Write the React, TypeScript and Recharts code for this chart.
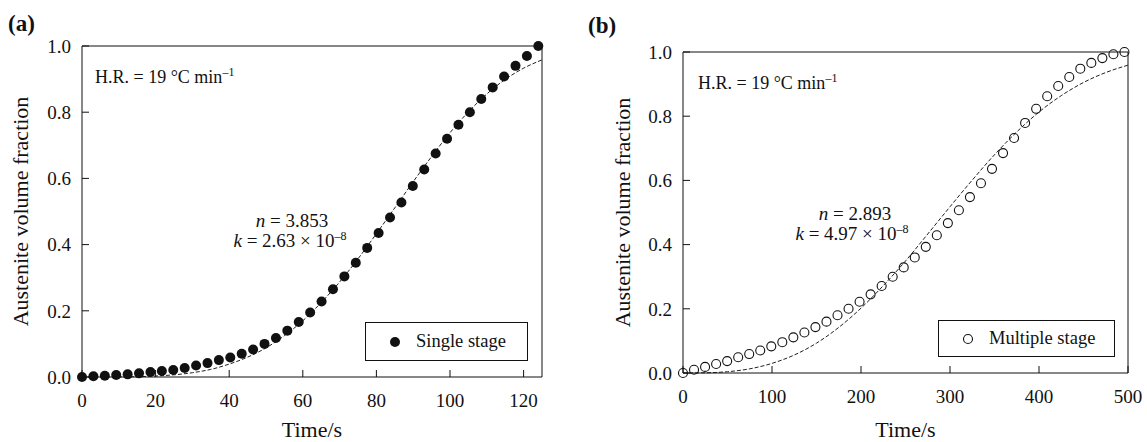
import React from 'react';
import { ComposedChart, Line, Scatter, XAxis, YAxis, ReferenceLine } from 'recharts';

// (a) single stage – measured points
const timeA = [
  0, 3.1, 6.2, 9.3, 12.4, 15.5, 18.6, 21.7, 24.8, 27.9, 31, 34.1, 37.2, 40.3,
  43.4, 46.5, 49.6, 52.7, 55.8, 58.9, 62, 65.1, 68.2, 71.3, 74.4, 77.5, 80.6,
  83.7, 86.8, 89.9, 93, 96.1, 99.2, 102.3, 105.4, 108.5, 111.6, 114.7, 117.8,
  120.9, 124,
];
const fracA = [
  0, 0.002, 0.004, 0.006, 0.008, 0.011, 0.015, 0.018, 0.021, 0.027, 0.035,
  0.042, 0.051, 0.059, 0.07, 0.083, 0.1, 0.118, 0.14, 0.166, 0.195, 0.228,
  0.265, 0.304, 0.345, 0.39, 0.435, 0.482, 0.527, 0.577, 0.627, 0.675, 0.72,
  0.762, 0.8, 0.84, 0.875, 0.908, 0.94, 0.97, 1.0,
];
// (a) fitted curve, n = 3.853
const fitTimeA = [0, 10, 20, 30, 35, 40, 45, 50, 55, 60, 65, 70, 75, 80, 85, 90, 95, 100, 105, 110, 115, 120, 125];
const fitFracA = [0, 0.0002, 0.003, 0.013, 0.023, 0.039, 0.06, 0.088, 0.125, 0.17, 0.225, 0.287, 0.357, 0.433, 0.511, 0.59, 0.666, 0.738, 0.801, 0.855, 0.899, 0.933, 0.958];

// (b) multiple stage – measured points
const timeB = [
  0, 12.4, 24.8, 37.2, 49.6, 62, 74.4, 86.8, 99.2, 111.6, 124, 136.4, 148.8,
  161.2, 173.6, 186, 198.4, 210.8, 223.2, 235.6, 248, 260.4, 272.8, 285.2,
  297.6, 310, 322.4, 334.8, 347.2, 359.6, 372, 384.4, 396.8, 409.2, 421.6, 434,
  446.4, 458.8, 471.2, 483.6, 496,
];
const fracB = [
  0, 0.01, 0.019, 0.028, 0.037, 0.049, 0.059, 0.07, 0.083, 0.096, 0.111,
  0.126, 0.143, 0.16, 0.18, 0.2, 0.222, 0.245, 0.271, 0.3, 0.329, 0.36, 0.393,
  0.429, 0.467, 0.507, 0.548, 0.591, 0.636, 0.685, 0.732, 0.779, 0.823, 0.862,
  0.894, 0.922, 0.948, 0.966, 0.981, 0.993, 1.0,
];
// (b) fitted curve, n = 2.893
const fitTimeB = [0, 25, 50, 75, 100, 125, 150, 175, 200, 225, 250, 275, 300, 325, 350, 375, 400, 425, 450, 475, 500];
const fitFracB = [0, 0.0006, 0.004, 0.013, 0.03, 0.056, 0.093, 0.142, 0.202, 0.272, 0.349, 0.433, 0.518, 0.601, 0.68, 0.751, 0.813, 0.864, 0.905, 0.936, 0.959];

const ticksA = [0, 20, 40, 60, 80, 100, 120];
const ticksB = [0, 100, 200, 300, 400, 500];
const ticksY = [0, 0.2, 0.4, 0.6, 0.8, 1.0];

const FONT = '"Liberation Serif", "Times New Roman", serif';
const INK = '#111';

const zip = (t: number[], f: number[]) => t.map((v, i) => ({ t: v, f: f[i] }));

const tickStyle = { fontFamily: FONT, fontSize: 19, fill: INK };

function Panel({
  left, width, top, bottomAxisH, yAxisW, rightM, xMax, xTicks, pts, fit, filled,
}: {
  left: number; width: number; top: number; bottomAxisH: number; yAxisW: number; rightM: number;
  xMax: number; xTicks: number[]; pts: { t: number; f: number }[]; fit: { t: number; f: number }[]; filled: boolean;
}) {
  return (
    <div style={{ position: 'absolute', left, top: 0 }}>
      <ComposedChart width={width} height={442} margin={{ top, right: rightM, bottom: 0, left: 0 }}>
        <XAxis
          dataKey="t"
          type="number"
          domain={[0, xMax]}
          ticks={xTicks}
          height={bottomAxisH}
          tick={tickStyle}
          tickSize={-7}
          tickMargin={24}
          stroke={INK}
          label={{ value: 'Time/s', position: 'insideBottom', offset: 5, style: { fontFamily: FONT, fontSize: 22, fill: INK } }}
        />
        <YAxis
          type="number"
          domain={[0, 1]}
          ticks={ticksY}
          width={yAxisW}
          tick={tickStyle}
          tickSize={-7}
          tickMargin={18}
          tickFormatter={(v: number) => v.toFixed(1)}
          stroke={INK}
          label={{
            value: 'Austenite volume fraction',
            angle: -90,
            position: 'insideLeft',
            offset: filled ? 20 : 52,
            style: { fontFamily: FONT, fontSize: 22, fill: INK, textAnchor: 'middle' },
          }}
        />
        <ReferenceLine y={1} stroke={INK} />
        <ReferenceLine x={xMax} stroke={INK} />
        <Line
          data={fit}
          dataKey="f"
          type="monotone"
          stroke="#222"
          strokeWidth={1}
          strokeDasharray="4 2"
          dot={false}
          isAnimationActive={false}
        />
        <Scatter
          data={pts}
          dataKey="f"
          isAnimationActive={false}
          shape={(p: any) =>
            filled ? (
              <circle cx={p.cx} cy={p.cy} r={5} fill={INK} />
            ) : (
              <circle cx={p.cx} cy={p.cy} r={4.5} fill="none" stroke={INK} strokeWidth={1.1} />
            )
          }
        />
      </ComposedChart>
    </div>
  );
}

const txt: React.CSSProperties = {
  position: 'absolute',
  fontFamily: FONT,
  color: INK,
  whiteSpace: 'nowrap',
  lineHeight: 1,
};
const center: React.CSSProperties = { ...txt, transform: 'translate(-50%, -50%)', fontSize: 19 };
const sup: React.CSSProperties = { fontSize: 12, verticalAlign: 7 };

function LegendBox({ x, y, w, h, label, filled }: { x: number; y: number; w: number; h: number; label: string; filled: boolean }) {
  return (
    <div
      style={{
        position: 'absolute', left: x, top: y, width: w, height: h, boxSizing: 'border-box',
        border: `1px solid ${INK}`, background: '#fff', display: 'flex', alignItems: 'center',
        fontFamily: FONT, fontSize: 18.5, color: INK,
      }}
    >
      <svg width={18} height={18} style={{ marginLeft: 20, marginRight: 12 }}>
        {filled ? <circle cx={9} cy={9} r={5} fill={INK} /> : <circle cx={9} cy={9} r={4.5} fill="none" stroke={INK} strokeWidth={1.1} />}
      </svg>
      <span>{label}</span>
    </div>
  );
}

export default function App() {
  return (
    <div style={{ position: 'absolute', left: 0, top: 0, width: 1147, height: 442, background: '#fff', overflow: 'hidden' }}>
      <Panel left={0} width={560} top={46} bottomAxisH={65} yAxisW={82} rightM={18} xMax={125} xTicks={ticksA} pts={zip(timeA, fracA)} fit={zip(fitTimeA, fitFracA)} filled />
      <Panel left={570} width={577} top={52} bottomAxisH={69} yAxisW={113} rightM={19} xMax={500} xTicks={ticksB} pts={zip(timeB, fracB)} fit={zip(fitTimeB, fitFracB)} filled={false} />

      <div style={{ ...txt, left: 8, top: 12, fontSize: 23, fontWeight: 'bold' }}>(a)</div>
      <div style={{ ...txt, left: 588, top: 14, fontSize: 23, fontWeight: 'bold' }}>(b)</div>

      <div style={{ ...txt, left: 95, top: 66, fontSize: 18 }}>
        H.R. = 19 °C min<span style={sup}>–1</span>
      </div>
      <div style={{ ...txt, left: 698, top: 72, fontSize: 18 }}>
        H.R. = 19 °C min<span style={sup}>–1</span>
      </div>

      <div style={{ ...center, left: 292, top: 220 }}><i>n</i> = 3.853</div>
      <div style={{ ...center, left: 290, top: 240 }}>
        <i>k</i> = 2.63 × 10<span style={sup}>–8</span>
      </div>
      <div style={{ ...center, left: 855, top: 213 }}><i>n</i> = 2.893</div>
      <div style={{ ...center, left: 852, top: 233 }}>
        <i>k</i> = 4.97 × 10<span style={sup}>–8</span>
      </div>

      <LegendBox x={365} y={322} w={163} h={39} label="Single stage" filled />
      <LegendBox x={938} y={320} w={177} h={37} label="Multiple stage" filled={false} />
    </div>
  );
}
